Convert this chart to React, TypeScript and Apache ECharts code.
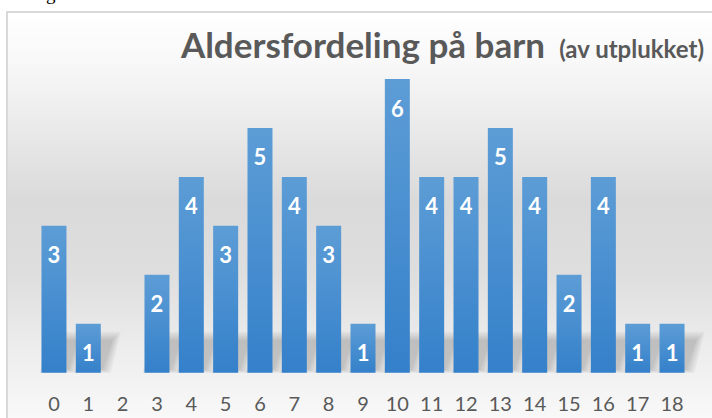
import React, { useEffect, useRef } from 'react';
import * as echarts from 'echarts';

const categories = ['0', '1', '2', '3', '4', '5', '6', '7', '8', '9', '10', '11', '12', '13', '14', '15', '16', '17', '18'];
const counts = [3, 1, 0, 2, 4, 3, 5, 4, 3, 1, 6, 4, 4, 5, 4, 2, 4, 1, 1];
const titleMain = 'Aldersfordeling på barn';
const titleSub = '(av utplukket)';
const strayText = 'g';

export default function App() {
  const ref = useRef<HTMLDivElement>(null);
  useEffect(() => {
    const chart = echarts.init(ref.current!, null, { renderer: 'svg' });
    const font = 'Lato, "Open Sans", sans-serif';
    chart.setOption({
      animation: false,
      backgroundColor: '#ffffff',
      grid: { left: 36.8, right: 22.8, top: 79, bottom: 45.3, containLabel: false },
      graphic: [
        {
          type: 'rect',
          z: -10,
          silent: true,
          shape: { x: 7, y: 12, width: 720, height: 420 },
          style: {
            fill: new echarts.graphic.LinearGradient(0, 0, 0, 1, [
              { offset: 0, color: '#ffffff' },
              { offset: 0.12, color: '#f8f8f8' },
              { offset: 0.45, color: '#dadada' },
              { offset: 0.62, color: '#dedede' },
              { offset: 0.82, color: '#eeeeee' },
              { offset: 1, color: '#fbfbfb' },
            ]),
            stroke: '#d9d9d9',
            lineWidth: 2,
          },
        },
        {
          type: 'text',
          silent: true,
          x: 46,
          y: -16,
          style: { text: strayText, font: '19px "Liberation Serif", serif', fill: '#000000', verticalAlign: 'top' },
        },
        {
          type: 'text',
          silent: true,
          x: 545,
          y: 44,
          style: {
            text: titleMain,
            fill: '#595959',
            font: 'bold 35px ' + font,
            align: 'right',
            verticalAlign: 'middle',
          },
        },
        {
          type: 'text',
          silent: true,
          x: 704,
          y: 48,
          style: {
            text: titleSub,
            fill: '#595959',
            font: 'bold 24px ' + font,
            align: 'right',
            verticalAlign: 'middle',
          },
        },
      ],
      xAxis: {
        type: 'category',
        data: categories,
        axisLine: { show: false },
        axisTick: { show: false },
        axisLabel: { color: '#595959', fontSize: 20, fontFamily: font, margin: 20 },
      },
      yAxis: { type: 'value', min: 0, max: 6, show: false, splitLine: { show: false } },
      series: [
        {
          type: 'custom',
          z: 1,
          silent: true,
          data: counts.map((v, i) => [i, v]),
          encode: { x: 0, y: 1 },
          renderItem: (params: any, api: any) => {
            const v = api.value(1);
            if (!v) return null;
            const base = api.coord([api.value(0), 0]);
            const topY = api.coord([api.value(0), v])[1];
            const w = 25;
            const h = Math.min(30, base[1] - topY - 6);
            const dx = 12;
            const x0 = base[0] - w / 2;
            const x1 = base[0] + w / 2;
            const y0 = base[1] - 3;
            const children = [];
            for (let k = 8; k >= 0; k -= 2) {
              children.push({
                type: 'polygon',
                shape: {
                  points: [
                    [x0 + 2 - k * 0.5, y0 + k * 0.4],
                    [x1 + 2 + k, y0 + k * 0.4],
                    [x1 + dx + k, y0 - h - k],
                    [x0 + dx - k * 0.5, y0 - h - k],
                  ],
                },
                style: { fill: 'rgba(0,0,0,0.04)' },
              });
            }
            return { type: 'group', children };
          },
        },
        {
          type: 'bar',
          z: 2,
          data: counts,
          barWidth: 25,
          itemStyle: {
            color: new echarts.graphic.LinearGradient(0, 0, 0, 1, [
              { offset: 0, color: '#5d9dd6' },
              { offset: 1, color: '#3480ca' },
            ]),
          },
          label: {
            show: true,
            position: 'insideTop',
            distance: 18,
            color: '#ffffff',
            fontWeight: 'bold',
            fontSize: 22,
            fontFamily: font,
            formatter: (p: any) => (p.value > 0 ? String(p.value) : ''),
          },
        },
      ],
    });
    return () => chart.dispose();
  }, []);
  return <div ref={ref} style={{ position: 'fixed', left: 0, top: 0, width: 712, height: 418 }} />;
}
